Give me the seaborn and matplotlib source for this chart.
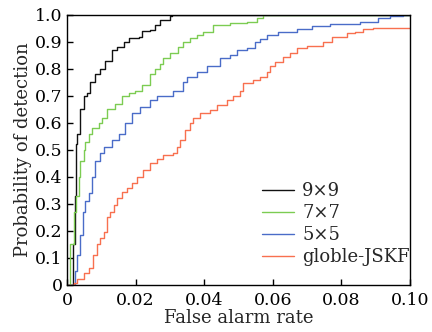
import numpy as np
import pandas as pd
import matplotlib
matplotlib.use("Agg")
import matplotlib.pyplot as plt
import seaborn as sns

# ---- data ----
x_9x9 = [0.0, 0.00087, 0.00175, 0.00224, 0.0026, 0.0029, 0.0039, 0.0049, 0.0058, 0.0068,
         0.0083, 0.0096, 0.0111, 0.0131, 0.0146, 0.0165, 0.018, 0.0209, 0.0219, 0.0242,
         0.0257, 0.0271, 0.030, 0.0306, 0.1]
y_9x9 = [0.0, 0.0, 0.15, 0.33, 0.52, 0.56, 0.65, 0.70, 0.71, 0.75,
         0.78, 0.80, 0.83, 0.87, 0.88, 0.90, 0.915, 0.92, 0.94, 0.944,
         0.963, 0.98, 0.996, 1.0, 1.0]

x_7x7 = [0.0, 0.0005, 0.001, 0.002, 0.0026, 0.0034, 0.0039, 0.0049, 0.0054, 0.0063,
         0.0073, 0.0092, 0.0102, 0.0117, 0.0141, 0.016, 0.018, 0.0199, 0.0219, 0.0242,
         0.0257, 0.0271, 0.028, 0.030, 0.0324, 0.0338, 0.0359, 0.0379, 0.0397, 0.0426,
         0.0475, 0.0525, 0.0554, 0.0571, 0.1]
y_7x7 = [0.0, 0.0, 0.15, 0.27, 0.33, 0.40, 0.46, 0.50, 0.53, 0.56,
         0.58, 0.60, 0.62, 0.65, 0.67, 0.70, 0.71, 0.72, 0.74, 0.78,
         0.80, 0.82, 0.84, 0.86, 0.88, 0.90, 0.915, 0.926, 0.937, 0.963,
         0.97, 0.974, 0.99, 1.0, 1.0]

x_5x5 = [0.0, 0.002, 0.0024, 0.0029, 0.0039, 0.0046, 0.0053, 0.0063, 0.0073, 0.0083,
         0.0097, 0.0109, 0.0131, 0.0151, 0.017, 0.019, 0.0213, 0.0242, 0.0262, 0.0291,
         0.0309, 0.0338, 0.0349, 0.0378, 0.0407, 0.0446, 0.0475, 0.0495, 0.0524, 0.0548,
         0.0563, 0.0582, 0.0615, 0.067, 0.0713, 0.0767, 0.0854, 0.0892, 0.0907, 0.0942,
         0.098, 0.1]
y_5x5 = [0.0, 0.0, 0.05, 0.11, 0.185, 0.27, 0.31, 0.34, 0.40, 0.46,
         0.49, 0.51, 0.537, 0.56, 0.60, 0.637, 0.66, 0.685, 0.70, 0.70,
         0.72, 0.75, 0.77, 0.79, 0.81, 0.84, 0.85, 0.87, 0.877, 0.90,
         0.91, 0.926, 0.937, 0.948, 0.959, 0.967, 0.974, 0.974, 0.989, 0.996,
         1.0, 1.0]

x_jskf = [0.0, 0.002, 0.0029, 0.0049, 0.0063, 0.0077, 0.0087, 0.0097, 0.0107, 0.0117,
          0.0126, 0.0136, 0.0146, 0.016, 0.0175, 0.019, 0.0204, 0.0222, 0.0242, 0.0262,
          0.0281, 0.031, 0.032, 0.0329, 0.0344, 0.0359, 0.0367, 0.0388, 0.0417, 0.0436,
          0.0466, 0.0484, 0.0504, 0.0513, 0.0542, 0.0563, 0.0582, 0.0592, 0.0606, 0.063,
          0.065, 0.067, 0.0699, 0.0746, 0.0772, 0.0815, 0.084, 0.0863, 0.0892, 0.1]
y_jskf = [0.0, 0.007, 0.02, 0.044, 0.063, 0.11, 0.15, 0.175, 0.196, 0.25,
          0.27, 0.296, 0.32, 0.344, 0.36, 0.378, 0.40, 0.426, 0.45, 0.465,
          0.48, 0.49, 0.512, 0.537, 0.574, 0.60, 0.62, 0.637, 0.648, 0.667,
          0.685, 0.70, 0.72, 0.748, 0.759, 0.77, 0.79, 0.81, 0.827, 0.845,
          0.859, 0.877, 0.885, 0.901, 0.92, 0.933, 0.938, 0.948, 0.952, 0.952]

labels = ["9×9", "7×7", "5×5", "globle-JSKF"]
colors = ["#111111", "#7ccc52", "#4a6cc8", "#f8704f"]
x_ticks = [0, 0.02, 0.04, 0.06, 0.08, 0.10]
x_tick_labels = ["0", "0.02", "0.04", "0.06", "0.08", "0.10"]
y_ticks = [0, 0.1, 0.2, 0.3, 0.4, 0.5, 0.6, 0.7, 0.8, 0.9, 1.0]
y_tick_labels = ["0", "0.1", "0.2", "0.3", "0.4", "0.5", "0.6", "0.7", "0.8", "0.9", "1.0"]

frames = []
for lab, xs, ys in zip(labels, [x_9x9, x_7x7, x_5x5, x_jskf], [y_9x9, y_7x7, y_5x5, y_jskf]):
    frames.append(pd.DataFrame({"x": xs, "y": ys, "method": lab}))
df = pd.concat(frames, ignore_index=True)

sns.set_theme(style="ticks")
plt.rcParams["font.family"] = ["DejaVu Serif"]
plt.rcParams["mathtext.fontset"] = "dejavuserif"

fig = plt.figure(figsize=(4.32, 3.32), dpi=100)
ax = fig.add_axes([0.155, 0.142, 0.794, 0.813])

sns.lineplot(data=df, x="x", y="y", hue="method", hue_order=labels,
             palette=colors, estimator=None, sort=False, drawstyle="steps-post",
             linewidth=1.0, ax=ax)

ax.set_xlim(0, 0.1)
ax.set_ylim(0, 1.0)
ax.set_xticks(x_ticks)
ax.set_xticklabels(x_tick_labels)
ax.set_yticks(y_ticks)
ax.set_yticklabels(y_tick_labels)
ax.tick_params(direction="in", length=4, width=1, labelsize=12.5, colors="black")
ax.tick_params(axis="x", pad=5)
ax.tick_params(axis="y", pad=3)
for s in ax.spines.values():
    s.set_linewidth(1.0)
    s.set_color("black")
ax.set_xlabel("False alarm rate", fontsize=13, labelpad=0)
ax.set_ylabel("Probability of detection", fontsize=13, labelpad=2)

leg = ax.legend(loc="lower right", bbox_to_anchor=(1.0, 0.07), frameon=False,
                fontsize=13, handlelength=1.8, handletextpad=0.45,
                labelspacing=0.22, borderaxespad=0.0, borderpad=0.0)

fig.savefig("out.png", dpi=100)
